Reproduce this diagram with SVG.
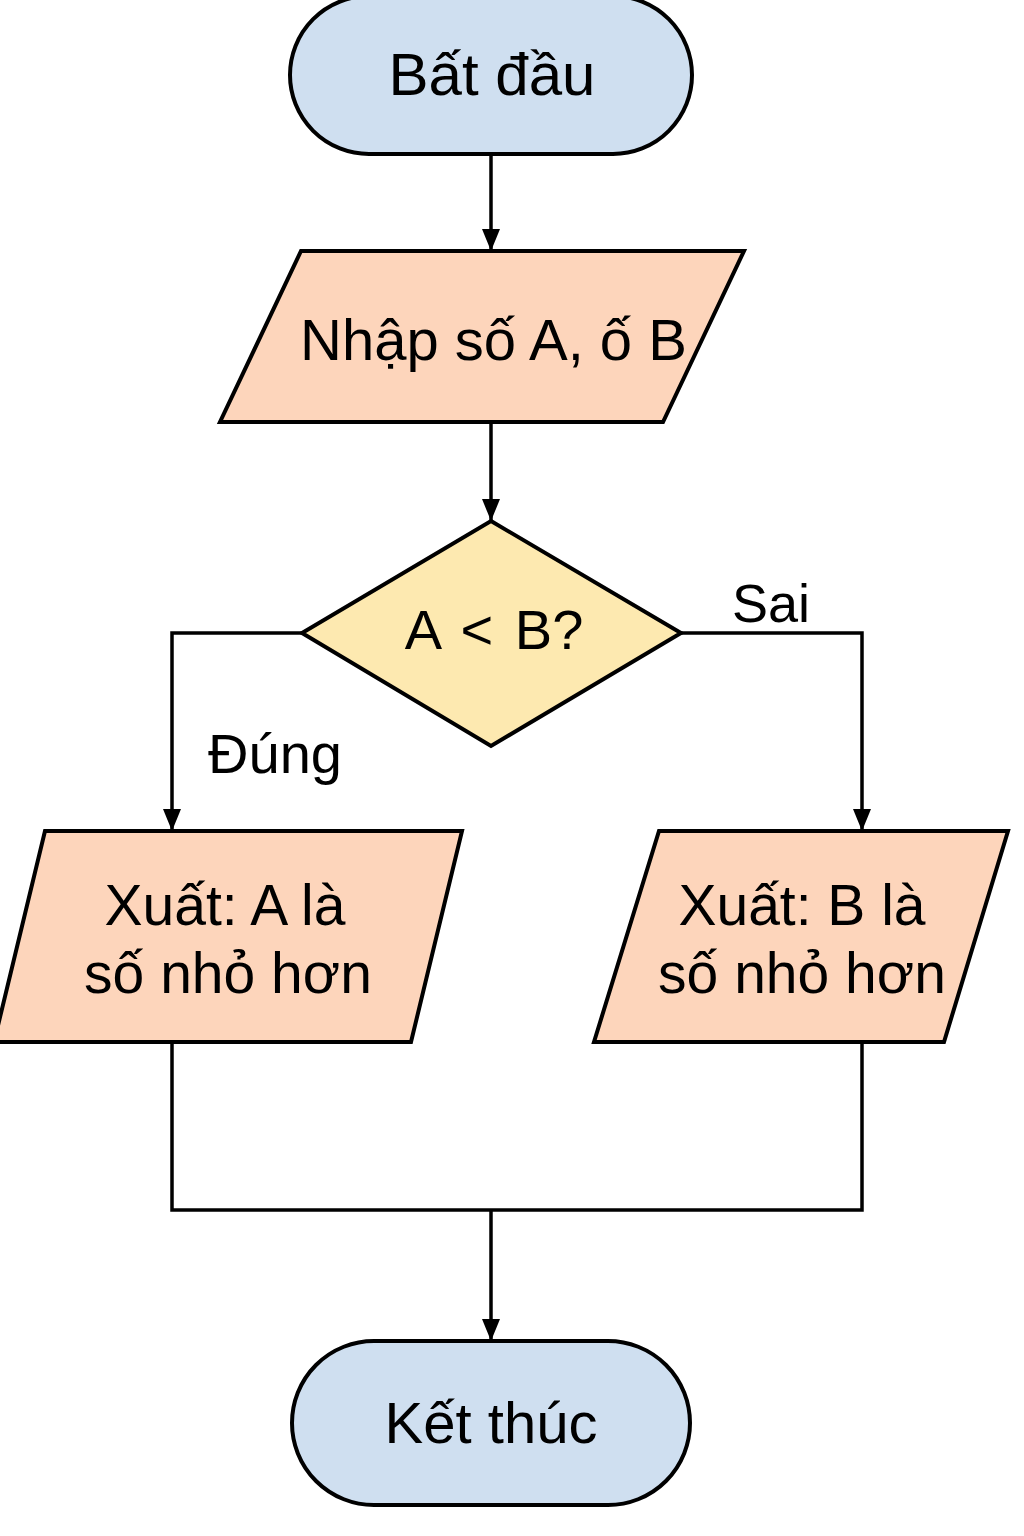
<svg xmlns="http://www.w3.org/2000/svg" width="1024" height="1536" viewBox="0 0 1024 1536">
<style>
.shape{stroke:#000;stroke-width:4;stroke-linejoin:miter}
.term{fill:#cfdff0}
.io{fill:#fdd5bb}
.dec{fill:#fde9b0}
.t{font-family:"Liberation Sans",Arial,sans-serif;fill:#000;text-anchor:middle}
.c{fill:none;stroke:#000;stroke-width:3.5}
</style>
<defs>
<marker id="ah" markerWidth="22" markerHeight="18" refX="22" refY="9" orient="auto" markerUnits="userSpaceOnUse" viewBox="0 0 22 18">
<path d="M0,0 L22,9 L0,18 Z" fill="#000"/>
</marker>
</defs>
<rect width="1024" height="1536" fill="#fff"/>
<g id="connectors">
<path class="c" d="M491,154 V251" marker-end="url(#ah)"/>
<path class="c" d="M491,422 V521" marker-end="url(#ah)"/>
<path class="c" d="M302,633 H172 V831" marker-end="url(#ah)"/>
<path class="c" d="M681,633 H862 V831" marker-end="url(#ah)"/>
<path class="c" d="M172,1043 V1210 H862 V1043"/>
<path class="c" d="M491,1210 V1341" marker-end="url(#ah)"/>
<text class="t" x="275" y="773" font-size="56">Đúng</text>
<text class="t" x="771" y="622" font-size="54">Sai</text>
</g>
<g id="start">
<rect class="shape term" x="290" y="-4" width="402" height="158" rx="79"/>
<text class="t" x="492" y="95" font-size="60">Bất đầu</text>
</g>
<g id="input">
<polygon class="shape io" points="301,251 744,251 663,422 220,422"/>
<text class="t" x="300" y="360" font-size="58" style="text-anchor:start">Nhập số A, ố B</text>
</g>
<g id="decision">
<polygon class="shape dec" points="491,521 681,633 491,746 302,633"/>
<text class="t" x="494" y="649" font-size="56" word-spacing="6">A &lt; B?</text>
</g>
<g id="outA">
<polygon class="shape io" points="45,831 462,831 411,1042 -6,1042"/>
<text class="t" x="225" y="925" font-size="57">Xuất: A là</text>
<text class="t" x="228" y="993" font-size="57">số nhỏ hơn</text>
</g>
<g id="outB">
<polygon class="shape io" points="659,831 1008,831 944,1042 594,1042"/>
<text class="t" x="802" y="925" font-size="57">Xuất: B là</text>
<text class="t" x="802" y="993" font-size="57">số nhỏ hơn</text>
</g>
<g id="end">
<rect class="shape term" x="292" y="1341" width="398" height="164" rx="82"/>
<text class="t" x="491" y="1443" font-size="58">Kết thúc</text>
</g>
</svg>
